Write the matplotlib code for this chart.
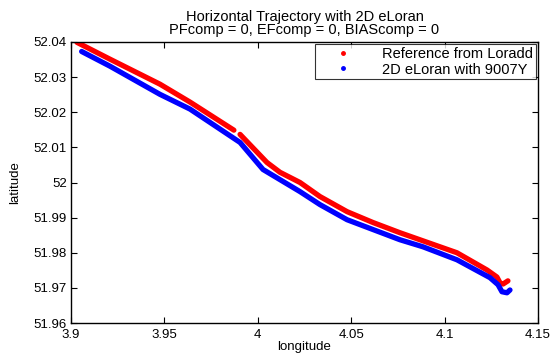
import numpy as np
import matplotlib
matplotlib.use("Agg")
import matplotlib.pyplot as plt
from matplotlib.lines import Line2D

plt.rcParams['font.family'] = ['Liberation Sans', 'DejaVu Sans']

# Reference track from Loradd (NaN marks the short data gap)
ref_lon = [3.9032, 3.9209, 3.9476, 3.9637, 3.9872, np.nan, 3.9905, 4.0049,
           4.0119, 4.0226, 4.0333, 4.0478, 4.0617, 4.0761, 4.0884, 4.1066,
           4.1227, 4.1280, 4.1297, 4.1313, 4.1339]
ref_lat = [52.0399, 52.0351, 52.0280, 52.0229, 52.0149, np.nan, 52.0137, 52.0057,
           52.0029, 52.0000, 51.9960, 51.9917, 51.9886, 51.9857, 51.9834, 51.9800,
           51.9751, 51.9731, 51.9714, 51.9711, 51.9720]

# 2D eLoran solution with chain 9007Y
elo_lon = [3.9057, 3.9209, 3.9476, 3.9637, 3.9905, 4.0028, 4.0226, 4.0333,
           4.0478, 4.0761, 4.0884, 4.1066, 4.1243, 4.1286, 4.1307, 4.1334, 4.1350]
elo_lat = [52.0373, 52.0331, 52.0251, 52.0209, 52.0114, 52.0037, 51.9974, 51.9937,
           51.9894, 51.9837, 51.9817, 51.9780, 51.9729, 51.9709, 51.9689, 51.9686, 51.9694]

x_ticks = [3.9, 3.95, 4.0, 4.05, 4.1, 4.15]
x_tick_labels = ["3.9", "3.95", "4", "4.05", "4.1", "4.15"]
y_ticks = [51.96, 51.97, 51.98, 51.99, 52.0, 52.01, 52.02, 52.03, 52.04]
y_tick_labels = ["51.96", "51.97", "51.98", "51.99", "52", "52.01", "52.02", "52.03", "52.04"]

W, H = 555, 358
fig = plt.figure(figsize=(W / 100, H / 100), dpi=100)
left, right, top, bottom = 71, 538, 42, 323
ax = fig.add_axes([left / W, 1 - bottom / H, (right - left) / W, (bottom - top) / H])

ax.plot(ref_lon, ref_lat, color='#ff0000', lw=3.8, solid_capstyle='round',
        solid_joinstyle='round')
ax.plot(elo_lon, elo_lat, color='#0000ff', lw=3.8, solid_capstyle='round',
        solid_joinstyle='round')

ax.set_xlim(3.9, 4.15)
ax.set_ylim(51.96, 52.04)
ax.set_xticks(x_ticks)
ax.set_xticklabels(x_tick_labels)
ax.set_yticks(y_ticks)
ax.set_yticklabels(y_tick_labels)
ax.tick_params(direction='in', length=4, width=0.8, top=True, right=True,
               labelsize=9.5)
ax.tick_params(axis='x', pad=4.5)
ax.tick_params(axis='y', pad=3)
for s in ax.spines.values():
    s.set_linewidth(1.0)

ax.set_xlabel("longitude", fontsize=9.5, labelpad=0)
ax.set_ylabel("latitude", fontsize=9.5, labelpad=9)

cx = (left + right) / 2 / W
fig.text(cx, 1 - 17 / H, "Horizontal Trajectory with 2D eLoran",
         ha='center', va='center', fontsize=10.5)
fig.text(cx, 1 - 30 / H, "PFcomp = 0, EFcomp = 0, BIAScomp = 0",
         ha='center', va='center', fontsize=10.5)

handles = [Line2D([], [], ls='none', marker='.', color='#ff0000', markersize=5),
           Line2D([], [], ls='none', marker='.', color='#0000ff', markersize=5)]
leg = ax.legend(handles, ["Reference from Loradd", "2D eLoran with 9007Y"],
                loc='upper right', fontsize=10.5, frameon=True, fancybox=False,
                edgecolor='black', borderpad=0.2, labelspacing=0.1,
                handlelength=3.4, handletextpad=1.0, borderaxespad=0.15)
leg.get_frame().set_linewidth(0.8)

fig.savefig("out.png", dpi=100)
